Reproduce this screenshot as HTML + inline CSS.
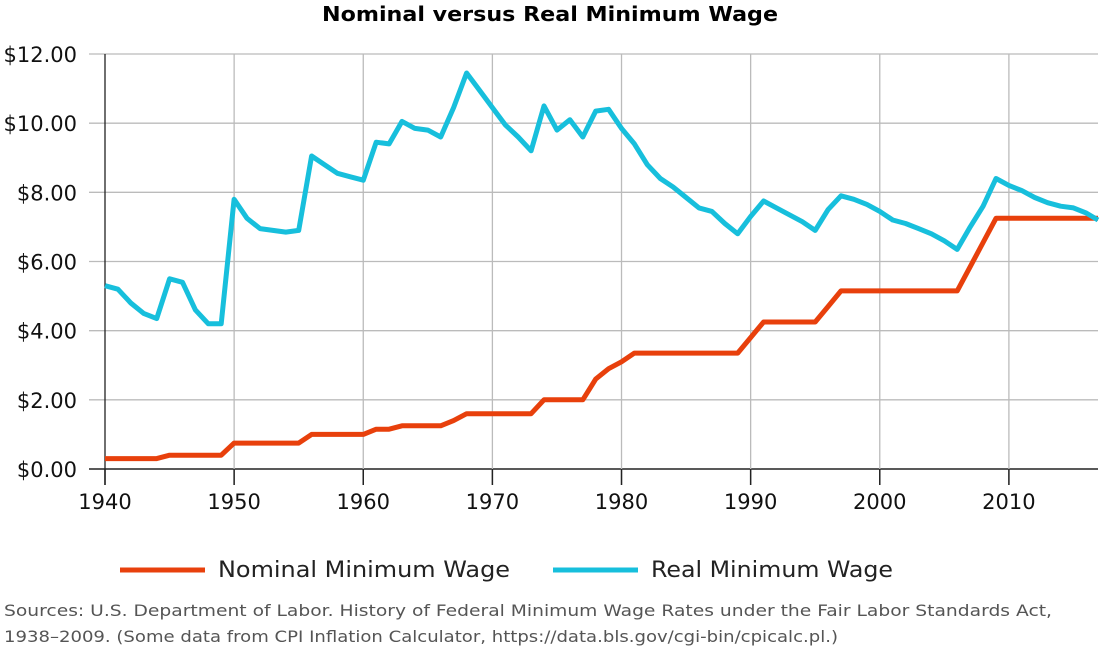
<!DOCTYPE html>
<html><head><meta charset="utf-8"><style>
body{margin:0;background:#fff;font-family:"DejaVu Sans","Liberation Sans",sans-serif}
svg{display:block}
</style></head><body>
<svg width="1100" height="650" font-family="DejaVu Sans, Liberation Sans, sans-serif">
<text x="322" y="21" font-size="20" font-weight="bold" textLength="456" lengthAdjust="spacingAndGlyphs">Nominal versus Real Minimum Wage</text>
<g id="grid"></g><g id="axes"></g><g id="series"></g>
<g>
<line x1="120" y1="570" x2="205" y2="570" stroke="#e8400c" stroke-width="5"/>
<text x="218" y="577" font-size="22" fill="#222" textLength="292" lengthAdjust="spacingAndGlyphs">Nominal Minimum Wage</text>
<line x1="553" y1="570" x2="638" y2="570" stroke="#17bfdc" stroke-width="5"/>
<text x="651" y="577" font-size="22" fill="#222" textLength="242" lengthAdjust="spacingAndGlyphs">Real Minimum Wage</text>
</g>
<text x="4" y="616" font-size="16" fill="#555" textLength="1048" lengthAdjust="spacingAndGlyphs">Sources: U.S. Department of Labor. History of Federal Minimum Wage Rates under the Fair Labor Standards Act,</text>
<text x="4" y="642" font-size="16" fill="#555" textLength="834" lengthAdjust="spacingAndGlyphs">1938–2009. (Some data from CPI Inflation Calculator, https://data.bls.gov/cgi-bin/cpicalc.pl.)</text>
</svg>
<script>
const years=[];for(let y=1940;y<=2017;y++)years.push(y);
const realWage=[5.3,5.2,4.8,4.5,4.35,5.5,5.4,4.6,4.2,4.2,7.8,7.25,6.95,6.9,6.85,6.9,9.05,8.8,8.55,8.45,8.35,9.45,9.4,10.05,9.85,9.8,9.6,10.45,11.45,10.95,10.45,9.95,9.6,9.2,10.5,9.8,10.1,9.6,10.35,10.4,9.85,9.4,8.8,8.4,8.15,7.85,7.55,7.45,7.1,6.8,7.3,7.75,7.55,7.35,7.15,6.9,7.5,7.9,7.8,7.65,7.45,7.2,7.1,6.95,6.8,6.6,6.35,7.0,7.6,8.4,8.2,8.05,7.85,7.7,7.6,7.55,7.4,7.2];
const nominalWage=[0.3,0.3,0.3,0.3,0.3,0.4,0.4,0.4,0.4,0.4,0.75,0.75,0.75,0.75,0.75,0.75,1.0,1.0,1.0,1.0,1.0,1.15,1.15,1.25,1.25,1.25,1.25,1.4,1.6,1.6,1.6,1.6,1.6,1.6,2.0,2.0,2.0,2.0,2.6,2.9,3.1,3.35,3.35,3.35,3.35,3.35,3.35,3.35,3.35,3.35,3.8,4.25,4.25,4.25,4.25,4.25,4.7,5.15,5.15,5.15,5.15,5.15,5.15,5.15,5.15,5.15,5.15,5.85,6.55,7.25,7.25,7.25,7.25,7.25,7.25,7.25,7.25,7.25];
const yTicks=[0,2,4,6,8,10,12];
const yTickLabels=["$0.00","$2.00","$4.00","$6.00","$8.00","$10.00","$12.00"];
const xTicks=[1940,1950,1960,1970,1980,1990,2000,2010];
const NS='http://www.w3.org/2000/svg';
const X0=105,X1=1098,xMin=1940,xMax=2016.9,Y0=469,Y1=54;
const xs=v=>X0+(v-xMin)/(xMax-xMin)*(X1-X0);
const ys=v=>Y0-(v/12)*(Y0-Y1);
function mk(tag,attrs,parent){const e=document.createElementNS(NS,tag);for(const k in attrs)e.setAttribute(k,attrs[k]);document.getElementById(parent).appendChild(e);return e;}
yTicks.forEach((t,i)=>{
 const g=mk('line',{x1:X0-16,x2:X1,y1:ys(t),y2:ys(t),stroke:t===0?'#222':'#bbb','stroke-width':t===0?1.5:1.3},'grid');
 
 
 const l=mk('text',{x:X0-28,y:ys(t)+8,'text-anchor':'end','font-size':21,fill:'#111'},'axes');
 l.textContent=yTickLabels[i];
 
 
});
xTicks.forEach(t=>{
 const g=mk('line',{x1:xs(t),x2:xs(t),y1:Y1,y2:Y0+16,stroke:t===1940?'#222':'#bbb','stroke-width':1.3},'grid');
 
 
 const tk=mk('line',{x1:xs(t),x2:xs(t),y1:Y0,y2:Y0+16,stroke:'#222','stroke-width':1.5},'axes');
 
 
 const l=mk('text',{x:xs(t),y:Y0+40,'text-anchor':'middle','font-size':21,fill:'#111'},'axes');
 l.textContent=t;
 
 
});
function line(vals,color,name){
 const pts=vals.map((v,i)=>xs(Math.min(years[i],xMax)).toFixed(1)+','+ys(v).toFixed(1)).join(' ');
 const p=mk('polyline',{points:pts,fill:'none',stroke:color,'stroke-width':5,'stroke-linejoin':'round'},'series');
 
 
}
line(nominalWage,'#e8400c','nominal-wage-line');
line(realWage,'#17bfdc','real-wage-line');
</script>
</body></html>
